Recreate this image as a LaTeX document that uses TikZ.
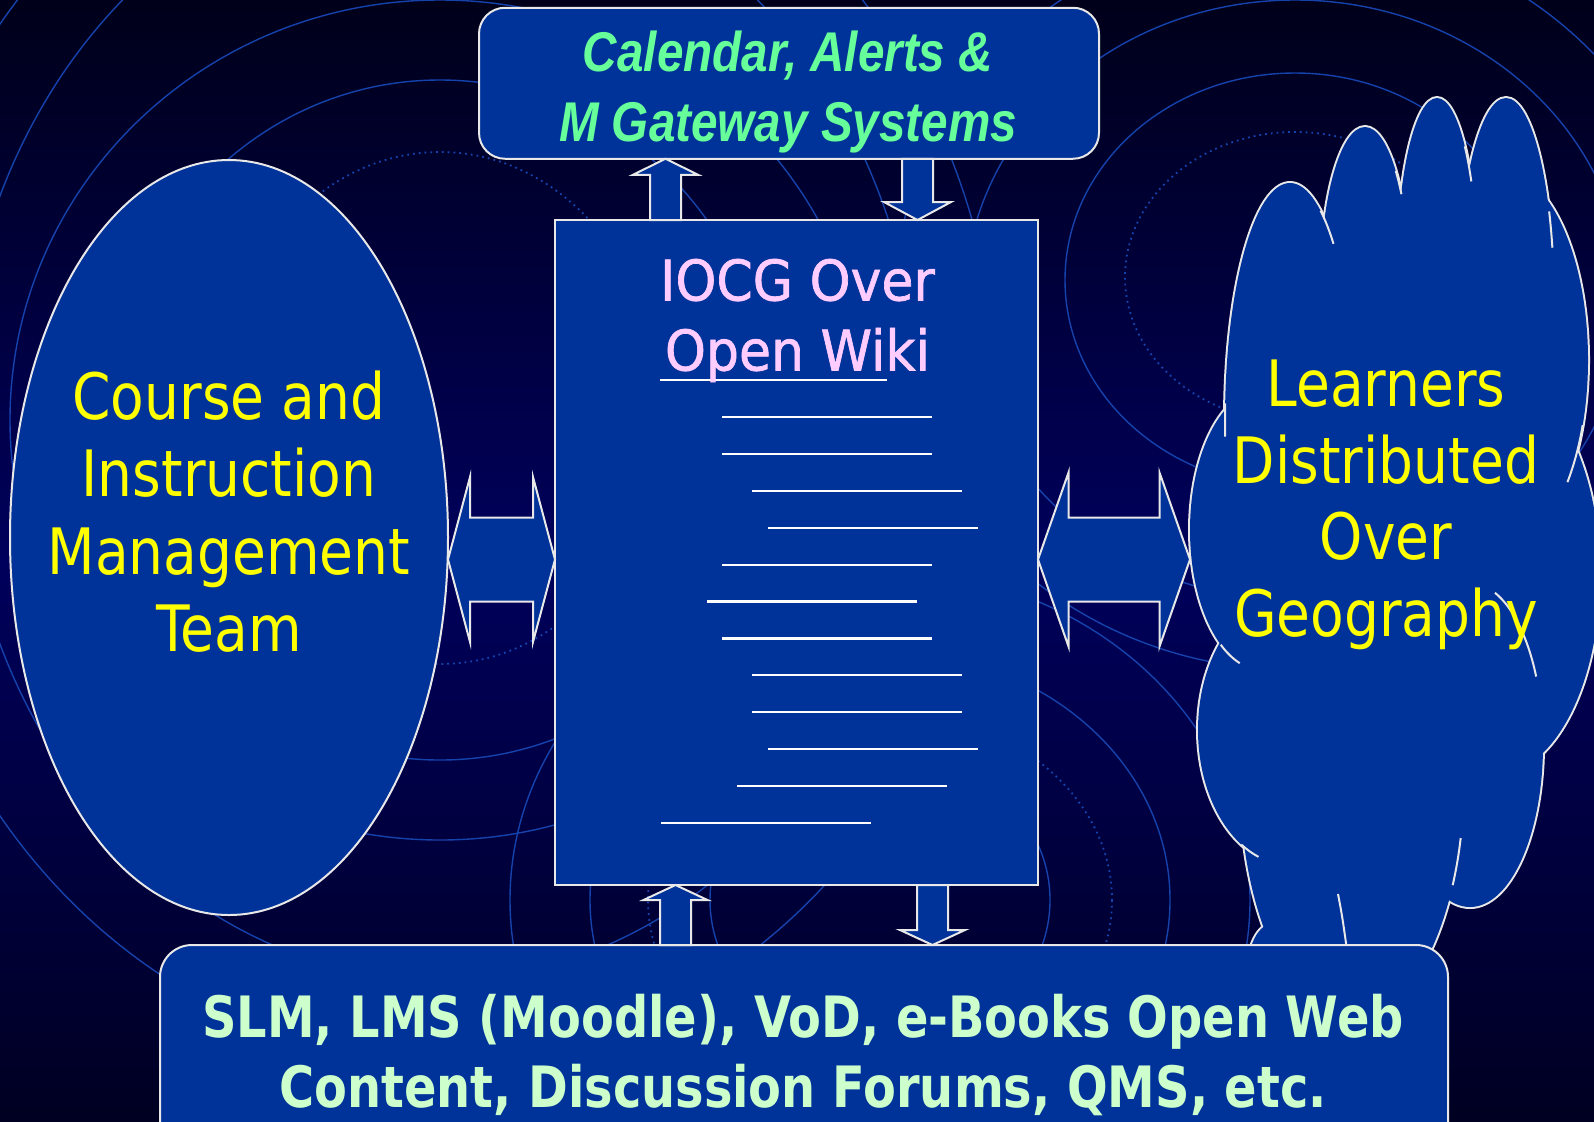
\documentclass[tikz,border=0pt]{standalone}
\usepackage{fontspec}
\usetikzlibrary{calc,shapes.geometric}
\newfontfamily\teamfont{DejaVu Sans}[FakeStretch=0.86]
\newfontfamily\wikifont{DejaVu Sans}[FakeStretch=0.93,FakeBold=1.2]
\newfontfamily\resfont{DejaVu Sans}[FakeStretch=0.84]
\newfontfamily\calfont{Liberation Sans}[FakeStretch=0.85]
\definecolor{slide}{RGB}{0,51,153}
\definecolor{rim}{RGB}{232,232,232}
\definecolor{bgtop}{RGB}{0,0,26}
\definecolor{bgmid}{RGB}{0,0,92}
\definecolor{bgbot}{RGB}{0,0,34}
\definecolor{ringblue}{RGB}{22,66,172}
\definecolor{txtyellow}{RGB}{255,255,0}
\definecolor{txtpink}{RGB}{255,204,255}
\definecolor{txtgreen}{RGB}{102,255,153}
\definecolor{txtmint}{RGB}{204,255,204}
% block arrow: tail, tip, shaft half width, head half width, head length
\newcommand{\blockarrow}[5]{%
  \path ($(#2)!#5!(#1)$) coordinate (ba-h);
  \draw[blockarrow] ($(#1)!#3!90:(#2)$) -- ($(ba-h)!#3!90:(#2)$) -- ($(ba-h)!#4!90:(#2)$) -- (#2)
    -- ($(ba-h)!#4!-90:(#2)$) -- ($(ba-h)!#3!-90:(#2)$) -- ($(#1)!#3!-90:(#2)$) -- cycle;}
% double block arrow: tip, tip, shaft half width, head half width, head length
\newcommand{\dblarrow}[5]{%
  \path ($(#1)!#5!(#2)$) coordinate (da-a) ($(#2)!#5!(#1)$) coordinate (da-b);
  \draw[blockarrow] (#1) -- ($(da-a)!#4!90:(#2)$) -- ($(da-a)!#3!90:(#2)$) -- ($(da-b)!#3!-90:(#1)$)
    -- ($(da-b)!#4!-90:(#1)$) -- (#2) -- ($(da-b)!#4!90:(#1)$) -- ($(da-b)!#3!90:(#1)$)
    -- ($(da-a)!#3!-90:(#2)$) -- ($(da-a)!#4!-90:(#2)$) -- cycle;}
\def\puffs{1290/420/65/237,1365/290/45/163,1437/270/40/172,1506/300/48/202,1500/360/88/190,1495/575/105/200,1262/530/72/140,1290/730/92/135,1470/745/73/162,1352/780/112/240,1272/974/25/50,1380/560/150/330}
\begin{document}
\begin{tikzpicture}[x=0.5pt,y=0.5pt,yscale=-1,xscale=1,
  ring/.style={draw=ringblue,line width=0.7pt},
  dotring/.style={draw=ringblue,line width=0.9pt,dotted},
  panel/.style={draw=rim,fill=slide,line width=1pt,inner sep=0pt,outer sep=0pt},
  blockarrow/.style={draw=rim,fill=slide,line width=1pt,line join=miter},
  wikiline/.style={draw=white,line width=1.1pt},
  puffrim/.style={draw=rim,line width=1pt},
  lbl/.style={align=center,inner sep=0pt}]
\useasboundingbox (0,0) rectangle (1594,1121);

%Background
\shade[top color=bgtop,bottom color=bgbot,middle color=bgmid] (0,0) rectangle (1594,1121);
\begin{scope}
\clip (0,0) rectangle (1594,1121);
\draw[dotring] (440,408) ellipse [x radius=220,y radius=256];
\foreach \rx/\ry in {330/340,430/420,480/560,560/640}
  \draw[ring] (440,420) ellipse [x radius=\rx,y radius=\ry];
\draw[dotring] (1295,277) ellipse [x radius=170,y radius=145];
\draw[ring] (1295,280) ellipse [x radius=230,y radius=207];
\draw[ring] (1295,300) ellipse [x radius=330,y radius=300];
\draw[ring] (1295,300) ellipse [x radius=400,y radius=370];
\draw[dotring] (880,900) ellipse [x radius=232,y radius=190];
\foreach \rx/\ry in {170/150,290/250,370/330}
  \draw[ring] (880,900) ellipse [x radius=\rx,y radius=\ry];
\end{scope}

%Axis coordinates for the block arrows
\coordinate (colA) at (665.5,0);
\coordinate (colB) at (917.5,0);
\coordinate (colC) at (675.5,0);
\coordinate (colD) at (932.5,0);
\coordinate (rowL) at (0,559.5);
\coordinate (cloudW) at (1190,559.5);

%Shape: Ellipse
\node[panel,ellipse,minimum width=219pt,minimum height=377.5pt] (team) at (229,537.5) {};
%Shape: Rectangle
\node[panel,rectangle,minimum width=241.5pt,minimum height=332.5pt] (wiki) at (796.5,552.5) {};
%Shape: Rounded Rect
\node[panel,rectangle,rounded corners=13pt,minimum width=310pt,minimum height=75.5pt] (cal) at (789,83.25) {};

%Left Right Arrows
\dblarrow{team.east |- rowL}{wiki.west |- rowL}{21pt}{41.25pt}{11pt}
\dblarrow{wiki.east |- rowL}{cloudW}{21pt}{43.5pt}{15.25pt}

%Up Down Arrows
\path (wiki.north -| colA) coordinate (upA0) (cal.south -| colA) coordinate (upA1);
\blockarrow{upA0}{upA1}{7.75pt}{16.25pt}{8pt}
\path (cal.south -| colB) coordinate (dnB0) (wiki.north -| colB) coordinate (dnB1);
\blockarrow{dnB0}{dnB1}{7.75pt}{16.75pt}{9pt}

%Straight Lines
\foreach \x/\k in {722/0,722/1,752/2,768/3,722/4,707/5,722/6,752/7,752/8,768/9,737/10,661/11}
  \draw[wikiline] (\x,{417+36.9*\k}) -- ++(210,0);
\draw[wikiline] (660,380) -- (887,380);

%Shape: Cloud
\begin{scope}
\clip (0,0) rectangle (1594,1121);
\foreach \cx/\cy/\rx/\ry in \puffs
  \draw[draw=rim,line width=2pt] (\cx,\cy) ellipse [x radius=\rx,y radius=\ry];
\foreach \cx/\cy/\rx/\ry in \puffs
  \fill[slide] (\cx,\cy) ellipse [x radius=\rx,y radius=\ry];
\draw[puffrim] (1290,420) ++(-62:65 and 237) arc [start angle=-62,end angle=-48,x radius=65,y radius=237];
\draw[puffrim] (1290,420) ++(184:65 and 237) arc [start angle=184,end angle=176,x radius=65,y radius=237];
\draw[puffrim] (1365,290) ++(-47:45 and 163) arc [start angle=-47,end angle=-36,x radius=45,y radius=163];
\draw[puffrim] (1437,270) ++(-46:40 and 172) arc [start angle=-46,end angle=-31,x radius=40,y radius=172];
\draw[puffrim] (1506,300) ++(-26:48 and 202) arc [start angle=-26,end angle=-15,x radius=48,y radius=202];
\draw[puffrim] (1500,360) ++(20:88 and 190) arc [start angle=20,end angle=40,x radius=88,y radius=190];
\draw[puffrim] (1262,530) ++(125:72 and 140) arc [start angle=125,end angle=108,x radius=72,y radius=140];
\draw[puffrim] (1290,730) ++(122:92 and 135) arc [start angle=122,end angle=110,x radius=92,y radius=135];
\draw[puffrim] (1470,745) ++(-70:73 and 162) arc [start angle=-70,end angle=-25,x radius=73,y radius=162];
\draw[puffrim] (1352,780) ++(14:112 and 240) arc [start angle=14,end angle=26,x radius=112,y radius=240];
\draw[puffrim] (1338,894) .. controls (1342,915) .. (1347,950);
\end{scope}

%Shape: Rounded Rect
\node[panel,rectangle,rounded corners=16pt,minimum width=644pt,minimum height=117.5pt] (res) at (804,1062.5) {};

%Up Down Arrows
\path (res.north -| colC) coordinate (upC0) (wiki.south -| colC) coordinate (upC1);
\blockarrow{upC0}{upC1}{7.75pt}{16pt}{7.5pt}
\path (wiki.south -| colD) coordinate (dnD0) (res.north -| colD) coordinate (dnD1);
\blockarrow{dnD0}{dnD1}{7.75pt}{16.25pt}{7.5pt}

% Text Node
\node[lbl,text=txtyellow,font=\teamfont\fontsize{32}{38.65}\selectfont] (teamlbl) at (229,511.7) {Course and\\Instruction\\Management\\Team};
% Text Node
\node[lbl,text=txtyellow,font=\teamfont\fontsize{32}{38.25}\selectfont] (cloudlbl) at (1386,504.7) {Learners\\Distributed\\Over\\Geography};
% Text Node
\node[lbl,text=txtpink,font=\wikifont\fontsize{28}{35}\selectfont] (wikilbl) at (797.5,320.5) {IOCG Over\\Open Wiki};
% Text Node
\node[lbl,text=txtgreen,font=\calfont\bfseries\itshape\fontsize{28}{35}\selectfont] (callbl) at (788,92.5) {Calendar, Alerts \&\\M Gateway Systems};
% Text Node
\node[lbl,text=txtmint,font=\resfont\bfseries\fontsize{28.5}{35}\selectfont] (reslbl) at (803,1055) {SLM, LMS (Moodle), VoD, e-Books Open Web\\Content, Discussion Forums, QMS, etc.};

\end{tikzpicture}
\end{document}
